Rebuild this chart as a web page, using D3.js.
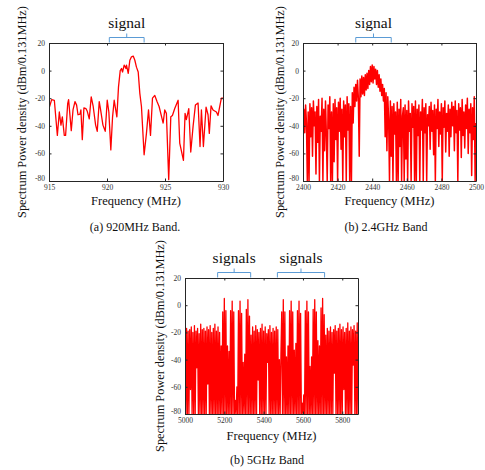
<!DOCTYPE html>
<html>
<head>
<meta charset="utf-8">
<script src="https://cdn.jsdelivr.net/npm/d3@7"></script>
<style>
  body { margin: 0; background: #fff; }
  svg, svg text { font-family: "Liberation Serif", "Tinos", "DejaVu Serif", "Noto Serif", "Times New Roman", Times, serif; }
</style>
</head>
<body>
<svg id="chart" width="485" height="470"></svg>
<script>

const serif = '"Liberation Serif", "Tinos", "DejaVu Serif", "Noto Serif", "Times New Roman", Times, serif';

// (a) 920MHz band, traced point by point
const freqA = [915.00, 915.23, 915.46, 915.72, 915.89, 916.03, 916.15, 916.32, 916.43, 916.61,
    916.69, 916.92, 917.07, 917.24, 917.38, 917.50, 917.67, 917.75, 917.87, 918.01,
    918.18, 918.30, 918.47, 918.64, 918.81, 919.02, 919.16, 919.33, 919.45, 919.65,
    919.85, 920.02, 920.16, 920.33, 920.48, 920.62, 920.85, 920.99, 921.14, 921.25,
    921.34, 921.48, 921.63, 921.68, 921.83, 921.97, 922.11, 922.26, 922.40, 922.54,
    922.69, 922.83, 922.97, 923.20, 923.40, 923.58, 923.75, 923.92, 924.12, 924.32,
    924.49, 924.84, 924.98, 925.12, 925.32, 925.50, 925.64, 925.84, 926.13, 926.27,
    926.59, 926.73, 926.84, 927.05, 927.22, 927.42, 927.62, 927.85, 928.02, 928.14,
    928.31, 928.54, 928.71, 928.82, 928.97, 929.14, 929.43, 929.57, 929.86, 930.00];
const powerA = [-27.5, -21, -21.5, -47, -30, -39.5, -33.5, -47, -47, -24,
    -21, -43.5, -28.5, -22.5, -25, -32, -31.5, -28.5, -50, -27,
    -27.5, -29.5, -35, -19, -26, -39.5, -44, -22.5, -28.5, -39.5,
    -44, -21.5, -30, -57.5, -33.5, -21.5, -33.5, -12, 0, 1.5,
    -1, 4, 1.5, 4, -2, 7.5, 10, 10.5, 7.5, 2.5,
    -1, -16.5, -26, -61, -45.5, -28.5, -47, -20, -18, -22.5,
    -26, -38, -28.5, -31, -79, -33.5, -32.5, -27.5, -21.5, -52.5,
    -65, -31, -35.5, -27.5, -59, -40.5, -25, -23.5, -55, -28.5,
    -55, -26.5, -32, -45.5, -25.5, -28.5, -30, -32.5, -20, -20];

// (b) 2.4GHz band, read every 0.5 MHz from 2400
const startB = 2400, stepB = 0.5;
const powerB = [-52, -28, -45, -25, -38, -80, -30, -80, -24, -48,
    -27, -62, -22, -40, -30, -75, -26, -52, -21, -80,
    -33, -44, -20, -80, -28, -58, -22, -46, -80, -25,
    -42, -19, -80, -30, -80, -24, -66, -21, -50, -27,
    -80, -23, -44, -20, -57, -28, -80, -22, -48, -25,
    -80, -19, -43, -24, -80, -26, -80, -16, -38, -12,
    -26, -10, -22, -7, -20, -62, -6, -19, -4, -17,
    -5, -18, -3, -14, -2, -13, 0, -10, 3, -8,
    4, -9, 3, -6, 1, -10, 0, -12, -3, -15,
    -6, -18, -10, -22, -13, -48, -16, -58, -19, -35,
    -80, -22, -62, -26, -80, -24, -46, -30, -80, -23,
    -80, -28, -55, -21, -80, -33, -27, -80, -25, -64,
    -29, -80, -22, -44, -31, -80, -24, -41, -26, -80,
    -22, -80, -28, -47, -25, -80, -30, -43, -21, -80,
    -27, -45, -24, -80, -32, -40, -26, -57, -23, -44,
    -29, -61, -25, -80, -28, -42, -21, -55, -30, -46,
    -24, -80, -27, -41, -22, -59, -31, -44, -25, -62,
    -28, -48, -23, -40, -26, -58, -22, -45, -29, -80,
    -24, -43, -27, -63, -21, -47, -30, -56, -25, -42,
    -20, -60, -28, -45, -24, -76, -27, -50, -19, -80,
    -38];

// (c) 5GHz band, read every 4 MHz from 5000
const startC = 5000, stepC = 4;
const powerC = [-12, -80, -17, -80, -19, -80, -18, -62, -16, -80,
    -20, -80, -15, -80, -19, -46, -17, -80, -21, -80,
    -14, -80, -18, -80, -17, -80, -19, -80, -16, -58,
    -18, -80, -15, -80, -20, -80, -17, -80, -14, -80,
    -19, -80, -16, -80, -20, -80, -30, -80, -5, -80,
    5, -80, -4, -80, -30, -80, -34, -80, -4, -80,
    3, -80, -5, -80, -70, -80, -60, -80, -4, -80,
    3, -80, -6, -80, -42, -80, -36, -80, -3, -80,
    4, -80, -8, -80, -22, -80, -16, -80, -19, -80,
    -15, -80, -18, -55, -20, -80, -17, -80, -14, -80,
    -19, -80, -16, -80, -21, -42, -18, -80, -15, -80,
    -20, -80, -17, -80, -19, -80, -16, -80, -18, -80,
    -40, -80, -36, -5, -80, 4, -80, -5, -80, -38,
    -80, -30, -80, -4, -80, 3, -80, -5, -80, -33,
    -80, -28, -80, -4, -80, 3, -80, -6, -80, -72,
    -80, -66, -80, -4, -80, 3, -80, -5, -80, -45,
    -80, -38, -80, -3, -80, 4, -80, -5, -80, -26,
    -80, -30, -80, -2, -80, 5, -80, -7, -80, -22,
    -80, -17, -80, -19, -80, -16, -80, -20, -80, -18,
    -50, -15, -80, -19, -80, -17, -80, -14, -80, -18,
    -80, -16, -62, -20, -80, -17, -80, -13, -80, -19,
    -80, -16, -80, -18, -44, -15, -80, -19, -80, -13,
    -80];

const yTicks = [-80, -60, -40, -20, 0, 20];
const xTicksA = [915, 920, 925, 930];
const xTicksB = [2400, 2420, 2440, 2460, 2480, 2500];
const xTicksC = [5000, 5200, 5400, 5600, 5800];

const bracesA = [{from: 920.2, to: 923.2, label: 'signal'}];
const bracesB = [{from: 2430.5, to: 2451, label: 'signal'}];
const bracesC = [{from: 5166, to: 5334, label: 'signals'}, {from: 5470, to: 5710, label: 'signals'}];

const yTitle = 'Spectrum Power density (dBm/0.131MHz)';
const xTitle = 'Frequency (MHz)';

const svg = d3.select('#chart');
svg.append('rect').attr('width', 485).attr('height', 470).attr('fill', '#fff');

const panels = [
    {id: 'a', left: 49, right: 223, top: 43, bottom: 181, xDomain: [915, 930], xTicks: xTicksA,
     points: freqA.map((f, i) => [f, powerA[i]]), braces: bracesA, lw: 1.3,
     yTitleX: 25.5, xTitleY: 204.5, caption: '(a) 920MHz Band.', capX: 135, capY: 231},
    {id: 'b', left: 303, right: 476, top: 43, bottom: 181, xDomain: [2400, 2500], xTicks: xTicksB,
     points: powerB.map((v, i) => [startB + i * stepB, v]), braces: bracesB, lw: 1.5,
     yTitleX: 283.5, xTitleY: 204.5, caption: '(b) 2.4GHz Band', capX: 386, capY: 231},
    {id: 'c', left: 185, right: 358, top: 278, bottom: 414, xDomain: [5000, 5880], xTicks: xTicksC,
     points: powerC.map((v, i) => [startC + i * stepC, v]), braces: bracesC, lw: 1.3,
     yTitleX: 164, xTitleY: 440, caption: '(b) 5GHz Band', capX: 267, capY: 464}
];

const axisColor = '#262626';

panels.forEach(p => {
    const x = d3.scaleLinear().domain(p.xDomain).range([p.left, p.right]);
    const y = d3.scaleLinear().domain([-80, 20]).range([p.bottom, p.top]);

    svg.append('clipPath').attr('id', 'clip-' + p.id)
        .append('rect')
        .attr('x', p.left).attr('y', p.top)
        .attr('width', p.right - p.left).attr('height', p.bottom - p.top);

    // spectrum trace
    svg.append('path')
        .datum(p.points)
        .attr('clip-path', `url(#clip-${p.id})`)
        .attr('fill', 'none')
        .attr('stroke', '#ff0000')
        .attr('stroke-width', p.lw)
        .attr('stroke-linejoin', 'round')
        .attr('d', d3.line().x(d => x(d[0])).y(d => y(d[1])));

    // box with inward ticks
    const styleAxis = g => {
        g.attr('font-family', serif);
        g.select('.domain').attr('stroke', axisColor);
        g.selectAll('.tick line').attr('stroke', axisColor);
        g.selectAll('text').attr('fill', '#333').attr('font-family', serif).style('font-size', '7.5px');
    };

    svg.append('g').attr('transform', `translate(0,${p.bottom})`)
        .call(d3.axisBottom(x).tickValues(p.xTicks).tickFormat(d3.format('d'))
            .tickSizeInner(-2.5).tickSizeOuter(0).tickPadding(4))
        .call(styleAxis);
    svg.append('g').attr('transform', `translate(0,${p.top})`)
        .call(d3.axisTop(x).tickValues(p.xTicks).tickFormat('')
            .tickSizeInner(-2.5).tickSizeOuter(0))
        .call(styleAxis);
    svg.append('g').attr('transform', `translate(${p.left},0)`)
        .call(d3.axisLeft(y).tickValues(yTicks).tickFormat(d => d)
            .tickSizeInner(-2.5).tickSizeOuter(0).tickPadding(4))
        .call(styleAxis)
        // lift the corner label a little so it clears the first frequency label
        .selectAll('.tick text').filter(d => d === -80).attr('dy', '-0.05em');
    svg.append('g').attr('transform', `translate(${p.right},0)`)
        .call(d3.axisRight(y).tickValues(yTicks).tickFormat('')
            .tickSizeInner(-2.5).tickSizeOuter(0))
        .call(styleAxis);

    // signal braces
    p.braces.forEach(b => {
        const x1 = x(b.from), x2 = x(b.to), xm = (x1 + x2) / 2;
        const yb = p.top - 0.5, yh = p.top - 5.5, yt = p.top - 9.5;
        svg.append('path')
            .attr('d', `M${x1},${yb}L${x1},${yh}L${x2},${yh}L${x2},${yb}M${xm},${yh}L${xm},${yt}`)
            .attr('fill', 'none')
            .attr('stroke', '#5b9bd5')
            .attr('stroke-width', 1);
        svg.append('text')
            .attr('x', xm).attr('y', p.top - 15)
            .attr('text-anchor', 'middle')
            .attr('font-family', serif)
            .style('font-size', '15.5px')
            .attr('fill', '#111')
            .text(b.label);
    });

    // titles
    svg.append('text')
        .attr('transform', `translate(${p.yTitleX},${(p.top + p.bottom) / 2}) rotate(-90)`)
        .attr('text-anchor', 'middle')
        .attr('font-family', serif)
        .style('font-size', '12.3px')
        .attr('fill', '#111')
        .text(yTitle);
    svg.append('text')
        .attr('x', (p.left + p.right) / 2).attr('y', p.xTitleY)
        .attr('text-anchor', 'middle')
        .attr('font-family', serif)
        .style('font-size', '12.5px')
        .attr('fill', '#111')
        .text(xTitle);
    svg.append('text')
        .attr('x', p.capX).attr('y', p.capY)
        .attr('text-anchor', 'middle')
        .attr('font-family', serif)
        .style('font-size', '12px')
        .attr('fill', '#111')
        .text(p.caption);
});

</script>
</body>
</html>
